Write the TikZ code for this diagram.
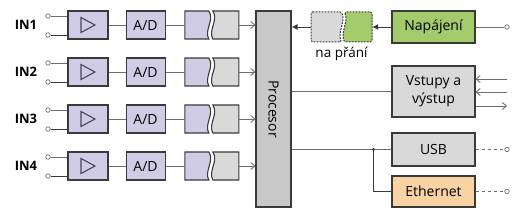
\documentclass[tikz,border=0pt]{standalone}
\usepackage{fontspec}
\setmainfont{Open Sans}
\usetikzlibrary{arrows.meta,positioning,calc}
\definecolor{Edge}{HTML}{3A3A3A}
\definecolor{Wire}{HTML}{6E6E6E}
\definecolor{Lilac}{HTML}{D0CCE6}
\definecolor{Grey}{HTML}{D9D9D9}
\definecolor{ProcGrey}{HTML}{C8C8C8}
\definecolor{Leaf}{HTML}{A3CB6B}
\definecolor{Peach}{HTML}{FAD3A4}
\definecolor{Tri}{HTML}{4A4566}
\tikzset{
 block/.style={draw=Edge, line width=1.1pt, minimum height=28pt, align=center, inner sep=2pt, font=\fontsize{14}{18}\selectfont},
 lilacblock/.style={block, fill=Lilac, minimum width=40pt},
 greyblock/.style={block, fill=Grey, minimum width=83pt},
 greenblock/.style={block, fill=Leaf, minimum width=83pt},
 peachblock/.style={block, fill=Peach, minimum width=83pt},
 dashpart/.style={draw=Edge, line width=1pt, dash pattern=on 1.8pt off 1.2pt, rounded corners=1.5pt},
 wire/.style={draw=Wire, line width=0.9pt},
 openarrow/.style={wire, -{Straight Barb[length=4pt,width=7pt]}},
 arrow/.style={draw=Edge, line width=0.9pt, -{Latex[length=6pt,width=6pt]}},
 port/.style={circle, draw=Wire, fill=white, line width=0.7pt, inner sep=0pt, minimum size=4.5pt}
}
\begin{document}
\begin{tikzpicture}[x=1pt,y=-1pt]
\useasboundingbox (0,0) rectangle (520,219);
\node[block,fill=ProcGrey,minimum width=35pt,minimum height=196pt] (proc) at (273.5,109) {\rotatebox{-90}{Procesor}};
% measurement channels
\foreach \i in {1,...,4}{
 \pgfmathsetmacro{\y}{25+47*(\i-1)}
 \node[font=\fontsize{13}{15}\selectfont\bfseries] (in\i) at (26,\y) {IN\i};
 \node[lilacblock] (amp\i) at (88,\y) {};
 \draw[draw=Tri,line width=1.1pt,shift={(amp\i.center)}] (-7,-7.5) -- (7,0) -- (-7,7.5) -- cycle;
 \node[lilacblock,minimum width=39pt,right=17pt of amp\i] (adc\i) {A/D};
 \node[minimum width=54pt,minimum height=28pt,right=19pt of adc\i] (buf\i) {};
 \begin{scope}[shift={(buf\i.center)}]
  \draw[draw=Edge,line width=1.1pt,fill=Lilac] (-27,-14) -- (-3,-14) .. controls (3,-5) and (-8,5) .. (-3,14) -- (-27,14) -- cycle;
  \draw[draw=Edge,line width=1.1pt,fill=Grey] (1,-14) .. controls (7,-5) and (-4,5) .. (1,14) -- (27,14) -- (27,-14) -- cycle;
 \end{scope}
 \node[port] (pa\i) at (48,\y-9) {};
 \node[port] (pb\i) at (48,\y+10) {};
 \draw[wire] (pa\i) -- (pa\i -| amp\i.west);
 \draw[wire,draw=Edge] (pb\i) -- (pb\i -| amp\i.west);
 \draw[wire] (amp\i) -- (adc\i);
 \draw[wire] (adc\i) -- (buf\i.west);
 \draw[openarrow] (buf\i.east) -- (buf\i.east -| proc.west);
}
% power supply
\node[greenblock,minimum height=32pt] (power) at (433.5,27) {Napájení};
\node[minimum width=61pt,minimum height=30pt] (opt) at (341.5,27) {};
\begin{scope}[shift={(opt.center)}]
 \draw[dashpart,fill=Grey] (-30.5,-15) -- (0,-15) .. controls (4,-5) and (-4,5) .. (0,15) -- (-30.5,15) -- cycle;
 \draw[dashpart,fill=Leaf] (3,-15) .. controls (7,-5) and (-1,5) .. (3,15) -- (30.5,15) -- (30.5,-15) -- cycle;
\end{scope}
\node[below=1pt of opt,font=\fontsize{13.5}{15}\selectfont] (optlabel) {na přání};
\node[port] (pwrport) at (507,27) {};
\draw[arrow] (power) -- (opt);
\draw[arrow] (opt.west) -- (opt.west -| proc.east);
\draw[wire] (power) -- (pwrport);
% inputs / outputs
\node[greyblock,minimum height=51pt] (vio) at (433.5,91.5) {Vstupy a\\výstup};
\coordinate (vin1) at (507,79);
\coordinate (vin2) at (507,92);
\coordinate (vout) at (507,106);
\draw[wire] (vio.west -| proc.east) -- (vio.west);
\draw[openarrow] (vin1) -- (vin1 -| vio.east);
\draw[openarrow] (vin2) -- (vin2 -| vio.east);
\draw[openarrow] (vout -| vio.east) -- (vout);
% interfaces
\node[greyblock,minimum height=33pt] (usb) at (433.5,149.5) {USB};
\node[peachblock,minimum height=31pt] (eth) at (433.5,191.5) {Ethernet};
\coordinate[left=18pt of usb.west] (split);
\node[port] (usbport) at (usb.east -| pwrport) {};
\node[port] (ethport) at (eth.east -| pwrport) {};
\draw[wire] (usb.west -| proc.east) -- (usb.west);
\draw[wire,draw=Edge] (split) |- (eth.west);
\fill[Edge] (split) circle (1.6pt);
\draw[wire,dashed] (usb) -- (usbport);
\draw[wire,dashed] (eth) -- (ethport);
\end{tikzpicture}
\end{document}
